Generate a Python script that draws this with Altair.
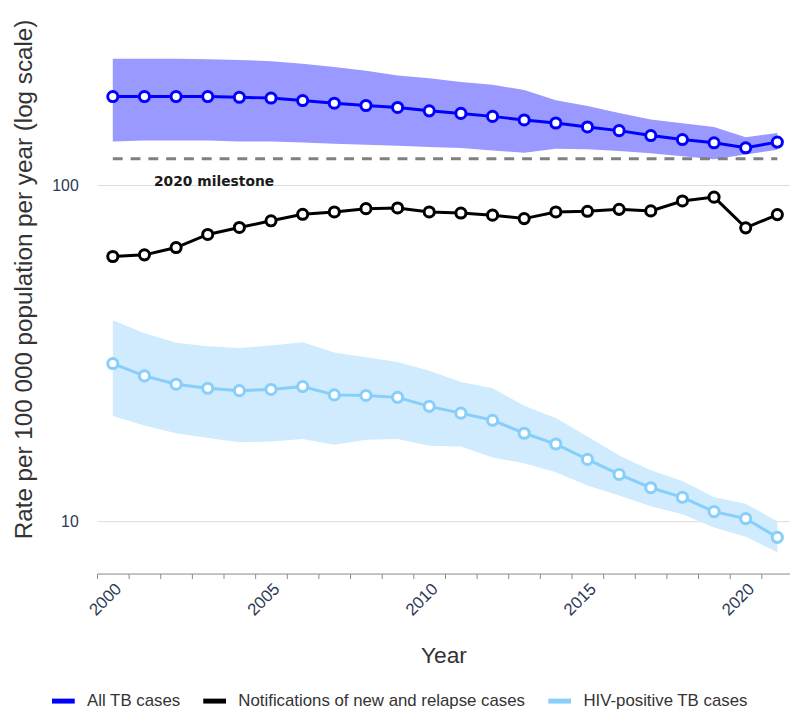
import altair as alt
import pandas as pd

years = list(range(2000, 2022))

series_names = ["All TB cases", "Notifications of new and relapse cases", "HIV-positive TB cases"]
series_colors = ["#0000ff", "#000000", "#87cefa"]

all_tb = [183.6, 183.6, 183.6, 183.6, 182.7, 181.8, 178.7, 175.4, 172.7, 170.4, 166.5,
          163.6, 160.3, 156.4, 153.2, 149.1, 145.4, 140.6, 136.8, 133.8, 129.3, 134.4]
all_tb_hi = [238, 238, 238, 237, 236, 234, 230, 225, 219, 212, 208,
             203, 199, 192, 179, 172, 164, 157, 153, 149, 139, 143]
all_tb_lo = [135, 136, 136, 136, 135, 135, 134, 133, 132, 131, 130,
             129, 127, 125, 128.5, 128, 126.5, 124.5, 122, 119.5, 123.4, 127.6]

notif = [61.4, 62.1, 65.3, 71.4, 74.9, 78.4, 82.0, 83.3, 85.2, 85.6, 83.3,
         82.7, 81.5, 79.6, 83.3, 83.7, 84.8, 83.9, 89.8, 92.2, 74.7, 81.8]

hiv = [29.5, 27.1, 25.6, 24.9, 24.5, 24.7, 25.2, 23.8, 23.7, 23.4, 22.0,
       21.0, 20.0, 18.3, 17.0, 15.3, 13.8, 12.6, 11.8, 10.7, 10.2, 8.97]
hiv_hi = [39.7, 36.3, 34.0, 33.2, 32.8, 33.4, 34.1, 31.8, 30.8, 29.8, 28.1,
          26.0, 24.9, 22.1, 20.3, 17.9, 15.7, 14.2, 13.2, 11.8, 11.3, 10.0]
hiv_lo = [20.6, 19.3, 18.3, 17.7, 17.2, 17.3, 17.6, 16.9, 17.5, 17.6, 16.8,
          16.7, 15.5, 14.9, 14.0, 12.8, 11.95, 11.1, 10.5, 9.6, 9.0, 8.1]

milestone_value = 120
milestone_label = "2020 milestone"
milestone_start, milestone_end = 2000, 2021
milestone_text_year = 2003.2

x_tick_values = [y - 0.5 for y in years]
y_tick_values = [10, 100]

lines_df = pd.DataFrame({
    "year": years * 3,
    "value": all_tb + notif + hiv,
    "series": [series_names[0]] * 22 + [series_names[1]] * 22 + [series_names[2]] * 22,
})
bands_df = pd.DataFrame({
    "year": years * 2,
    "lo": all_tb_lo + hiv_lo,
    "hi": all_tb_hi + hiv_hi,
    "band": ["all"] * 22 + ["hiv"] * 22,
})
mile_df = pd.DataFrame({"x": [milestone_start], "x2": [milestone_end], "y": [milestone_value]})
mile_text_df = pd.DataFrame({"x": [milestone_text_year], "y": [milestone_value], "t": [milestone_label]})

xscale = alt.Scale(domain=[1999.5, 2021.4], nice=False, zero=False)
yscale = alt.Scale(type="log", domain=[7, 300], nice=False)

x_axis = alt.Axis(
    values=x_tick_values, tickCount=40,
    labelExpr="(datum.value + 0.5) % 5 == 0 ? format(datum.value + 0.5, 'd') : ''",
    labelOffset=16, labelAngle=-45, labelFontSize=17, labelColor="#2b3a55",
    labelOverlap=False, labelBound=False, labelFlush=False,
    tickSize=5, tickColor="#888", domainColor="#888", grid=False,
    title="Year", titleFontSize=23, titleFontWeight="normal", titleColor="#333",
    titlePadding=27,
)
y_axis = alt.Axis(
    values=y_tick_values, format="d", grid=True, gridColor="#dddddd",
    domain=False, ticks=False, labelPadding=19, labelFontSize=16, labelColor="#2b3a55",
    title="Rate per 100 000 population per year (log scale)", titleFontSize=24.5,
    titleFontWeight="normal", titleColor="#333", titlePadding=16, titleY=257,
)

band_colors = alt.Scale(domain=["all", "hiv"], range=["#9999ff", "#cfebfd"])

bands = alt.Chart(bands_df).mark_area(opacity=1).encode(
    x=alt.X("year:Q", scale=xscale, axis=x_axis),
    y=alt.Y("lo:Q", scale=yscale, axis=y_axis),
    y2="hi:Q",
    fill=alt.Fill("band:N", scale=band_colors, legend=None),
    detail="band:N",
)

mile = alt.Chart(mile_df).mark_rule(color="#808080", strokeWidth=3, strokeDash=[10, 8]).encode(
    x="x:Q", x2="x2:Q", y="y:Q"
)

mile_text = alt.Chart(mile_text_df).mark_text(
    font="DejaVu Sans", fontWeight="bold", fontSize=14, color="#1a1a1a",
    align="center", baseline="middle", dy=24,
).encode(x="x:Q", y="y:Q", text="t:N")

color_scale = alt.Scale(domain=series_names, range=series_colors)

lines = alt.Chart(lines_df).mark_line(strokeWidth=3).encode(
    x="year:Q", y="value:Q",
    color=alt.Color("series:N", scale=color_scale, sort=series_names,
                    legend=alt.Legend(title=None, orient="none", legendX=-48, legendY=670,
                                      direction="horizontal",
                                      symbolType="stroke", symbolStrokeWidth=5, symbolSize=529,
                                      labelFontSize=17, labelColor="#333", columnPadding=12,
                                      labelOffset=10, labelLimit=0)),
)

points = alt.Chart(lines_df).mark_point(filled=True, fill="white", size=105, strokeWidth=3, opacity=1).encode(
    x="year:Q", y="value:Q",
    stroke=alt.Stroke("series:N", scale=color_scale, legend=None),
)

chart = alt.layer(bands, mile, mile_text, lines, points).properties(
    width=701, height=555,
    padding={"left": 3, "top": 7, "right": 0, "bottom": 0},
).configure(font="Liberation Sans").configure_view(stroke=None)

chart.save("out.html", embed_options={"renderer": "svg", "actions": False})
